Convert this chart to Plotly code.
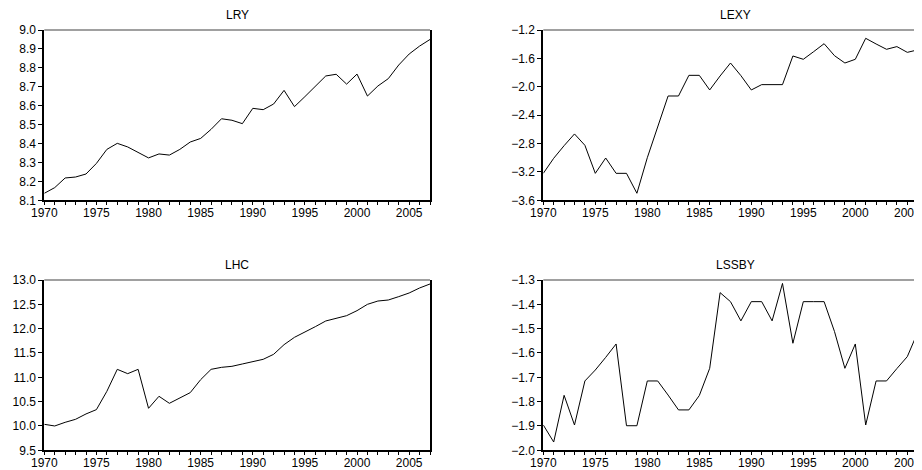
import plotly.graph_objects as go
from plotly.subplots import make_subplots

years = list(range(1970, 2008))

lry = [8.137, 8.167, 8.218, 8.223, 8.239, 8.295, 8.369, 8.401, 8.382, 8.354,
       8.324, 8.345, 8.339, 8.369, 8.408, 8.427, 8.475, 8.531, 8.523, 8.505,
       8.586, 8.579, 8.609, 8.681, 8.595, 8.648, 8.702, 8.757, 8.766, 8.714,
       8.767, 8.651, 8.704, 8.743, 8.815, 8.873, 8.915, 8.950]

lexy = [-3.22, -3.008, -2.83, -2.665, -2.825, -3.22, -3.004, -3.22, -3.22, -3.501,
        -3.0, -2.55, -2.13, -2.13, -1.839, -1.839, -2.045, -1.848, -1.665, -1.843,
        -2.045, -1.97, -1.97, -1.97, -1.566, -1.613, -1.505, -1.393, -1.562, -1.665,
        -1.613, -1.317, -1.397, -1.472, -1.434, -1.515, -1.48, -1.45]

lhc = [10.034, 10.0, 10.075, 10.137, 10.247, 10.336, 10.712, 11.164, 11.075, 11.164,
       10.363, 10.61, 10.466, 10.582, 10.685, 10.952, 11.164, 11.205, 11.226, 11.274,
       11.329, 11.370, 11.473, 11.671, 11.822, 11.925, 12.041, 12.158, 12.212, 12.267,
       12.370, 12.5, 12.568, 12.589, 12.658, 12.733, 12.836, 12.918]

lssby = [-1.896, -1.966, -1.774, -1.896, -1.715, -1.67, -1.618, -1.563, -1.899, -1.899,
         -1.715, -1.715, -1.773, -1.834, -1.834, -1.775, -1.663, -1.352, -1.389, -1.468,
         -1.389, -1.389, -1.468, -1.314, -1.56, -1.389, -1.389, -1.389, -1.512, -1.663,
         -1.563, -1.896, -1.715, -1.715, -1.664, -1.615, -1.515, -1.515]

titles = ["LRY", "LEXY", "LHC", "LSSBY"]
series = [lry, lexy, lhc, lssby]
yranges = [[8.1, 9.0], [-3.6, -1.2], [9.5, 13.0], [-2.0, -1.3]]
ydticks = [0.1, 0.4, 0.5, 0.1]

# page body has an 8px margin, so the figure is drawn 8px in from the window edge
OFF = 8
W, H = 922 - OFF, 470 - OFF
def px_x(v):
    return (v - OFF) / W
def px_y(v):
    return 1 - (v - OFF) / H

xdom_left = [px_x(44.3), px_x(430)]
xdom_right = [px_x(543.3), 1.0]
ydom_top = [px_y(200.3), px_y(30)]
ydom_bot = [px_y(450.3), px_y(280)]
xrange_left = [1970, 2007]
xrange_right = [1970, 1970 + (922 - 543.3) / 10.4]

fig = make_subplots(rows=2, cols=2)
doms = [(xdom_left, ydom_top, xrange_left), (xdom_right, ydom_top, xrange_right),
        (xdom_left, ydom_bot, xrange_left), (xdom_right, ydom_bot, xrange_right)]

FAM = "Liberation Sans, Arial, sans-serif"
font = dict(family=FAM, size=12, color="black")

for i, (t, s) in enumerate(zip(titles, series)):
    r, c = i // 2 + 1, i % 2 + 1
    fig.add_trace(go.Scatter(x=years, y=s, mode="lines",
                             line=dict(color="black", width=1), showlegend=False,
                             hoverinfo="x+y"), row=r, col=c)
    xd, yd, xr = doms[i]
    ax = "" if i == 0 else str(i + 1)
    fig.update_layout(**{
        f"xaxis{ax}": dict(domain=xd, range=xr, showgrid=False, zeroline=False,
                           automargin=False,
                           showline=True, linecolor="black", linewidth=2,
                           ticks="outside", ticklen=3, tickcolor="black", tickwidth=1,
                           ticklabelstandoff=-3,
                           tick0=1970, dtick=5, tickfont=font,
                           minor=dict(ticks="outside", ticklen=3, dtick=1, tick0=1970,
                                      tickcolor="black", showgrid=False)),
        f"yaxis{ax}": dict(domain=yd, range=yranges[i], showgrid=False, zeroline=False,
                           automargin=False,
                           showline=True, linecolor="black", linewidth=2, mirror=True,
                           ticks="outside", ticklen=4, tickcolor="black", tickwidth=1,
                           dtick=ydticks[i], tick0=yranges[i][0], tickformat=".1f",
                           tickfont=font),
    })
    xref = f"x{ax} domain"
    yref = f"y{ax} domain"
    fig.add_shape(type="line", xref=xref, yref=yref, x0=0, x1=1, y0=1, y1=1,
                  line=dict(color="#808080", width=1.5))
    fig.add_annotation(text=t, xref=xref, yref=yref,
                       x=0.5 if c == 1 else (735 - 543.3) / (922 - 543.3),
                       y=1, yanchor="middle", yshift=15, showarrow=False,
                       font=dict(family=FAM, size=12, color="black"))

fig.update_layout(width=W, height=H, margin=dict(l=0, r=0, t=0, b=0, autoexpand=False),
                  paper_bgcolor="white", plot_bgcolor="white")

fig.write_html("out.html")
